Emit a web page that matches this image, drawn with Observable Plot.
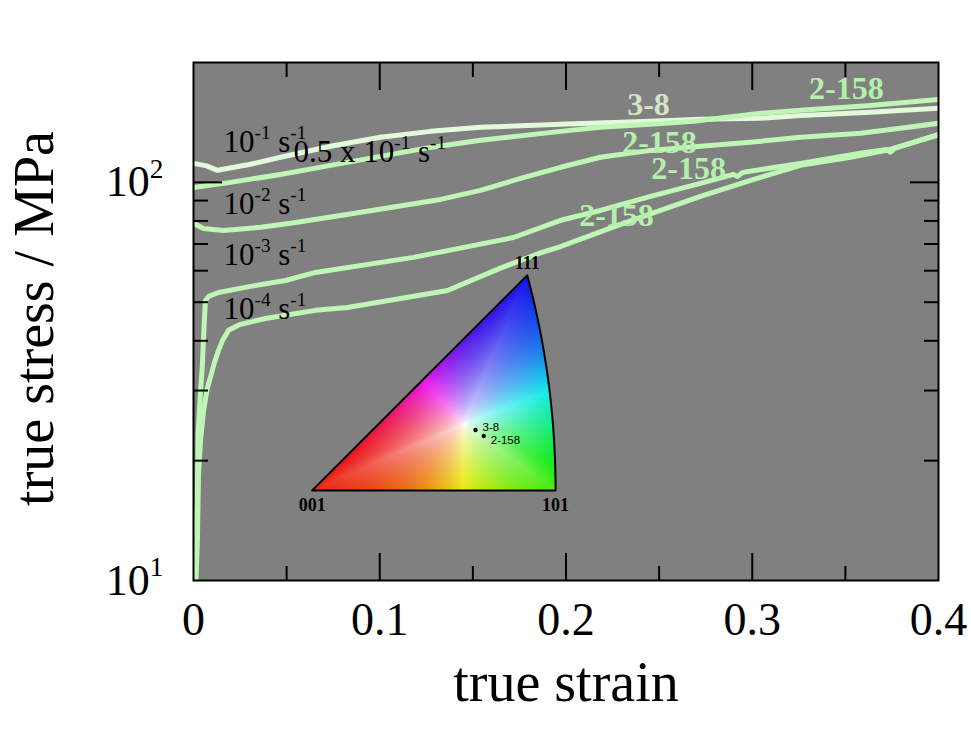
<!DOCTYPE html>
<html><head><meta charset="utf-8">
<script src="https://cdn.jsdelivr.net/npm/d3@7"></script>
<script src="https://cdn.jsdelivr.net/npm/@observablehq/plot@0.6"></script>
<style>body{margin:0;background:#fff}#chart svg{display:block}</style>
</head><body><div id="chart"></div>
<script>
// ---- axis ticks ----
const xTicks = [0, 0.1, 0.2, 0.3, 0.4];
const xMajorInner = [0.1, 0.2, 0.3];
const xMinor = [0.05, 0.15, 0.25, 0.35];
const yTicks = [10, 100];
const yMajorInner = [100];
const yMinor = [20, 30, 40, 50, 60, 70, 80, 90];

// ---- curves (true strain, true stress MPa) ----
const strainA = [0, 0.007, 0.0129, 0.0306, 0.0467, 0.0736, 0.1004, 0.1272, 0.1541, 0.1971, 0.2454, 0.2722, 0.3044, 0.3259, 0.3635, 0.4];
const stressA = [111.6, 110.0, 107.2, 111.0, 115.6, 123.2, 129.8, 134.3, 137.5, 139.9, 142.3, 144.0, 144.8, 147.3, 149.9, 153.5];
const strainB = [0, 0.0199, 0.0467, 0.0736, 0.1004, 0.1272, 0.1541, 0.1971, 0.2185, 0.2454, 0.2685, 0.3044, 0.3259, 0.3635, 0.4];
const stressB = [97.1, 100.0, 104.7, 110.3, 116.2, 122.4, 127.5, 134.3, 137.5, 139.9, 142.3, 149.1, 151.7, 156.0, 161.6];
const strainC = [0, 0.0054, 0.0161, 0.036, 0.0521, 0.0789, 0.1058, 0.1326, 0.1541, 0.1756, 0.1971, 0.2185, 0.2454, 0.2722, 0.2991, 0.3259, 0.3581, 0.3796, 0.4];
const stressC = [78.9, 76.6, 75.7, 77.1, 78.9, 82.6, 86.5, 90.6, 95.5, 102.3, 109.1, 115.6, 120.3, 123.2, 126.1, 129.8, 132.8, 136.7, 140.7];
const strainD = [0.0003, 0.0011, 0.0016, 0.0020, 0.0025, 0.0038, 0.0047, 0.0054, 0.0064, 0.0081, 0.0134, 0.0306, 0.0494, 0.0655, 0.1181, 0.1718, 0.1971, 0.2185, 0.2454, 0.2722, 0.2899, 0.2921, 0.2948, 0.3259, 0.3581, 0.3721, 0.3742, 0.3764, 0.4];
const stressD = [10, 11.2, 14.2, 15.9, 23.4, 30.0, 34.3, 40.8, 50.5, 51.7, 52.9, 54.8, 56.7, 59.4, 64.8, 72.7, 80.3, 85.0, 92.2, 99.4, 104.7, 103.5, 105.9, 111.6, 118.3, 120.9, 119.0, 121.7, 132.0];
const strainE = [0.0013, 0.0021, 0.0027, 0.0038, 0.0054, 0.0075, 0.0091, 0.0113, 0.0134, 0.0156, 0.0188, 0.0252, 0.0387, 0.0655, 0.0827, 0.1111, 0.1364, 0.1648, 0.1863, 0.1971, 0.2078, 0.2293, 0.2507, 0.2722, 0.2991, 0.3259, 0.3528, 0.3721, 0.4];
const stressE = [10, 12.6, 18.6, 22.5, 26.7, 30.5, 32.4, 35.3, 37.8, 40.1, 42.5, 44.0, 45.5, 47.7, 48.5, 51.1, 53.5, 60.9, 66.5, 69.0, 72.0, 78.4, 85.0, 92.2, 101.2, 110.3, 115.6, 120.3, 131.5];

const seriesNames = ["A", "B", "C", "D", "E"];
const seriesColors = ["#e3f9dc", "#bff5b5", "#bff5b5", "#bff5b5", "#bff5b5"];
const seriesStrain = [strainA, strainB, strainC, strainD, strainE];
const seriesStress = [stressA, stressB, stressC, stressD, stressE];

// ---- strain-rate labels (black) ----
const rateText = ["10^{-1} s^{-1}", "0.5 x 10^{-1} s^{-1}", "10^{-2} s^{-1}", "10^{-3} s^{-1}", "10^{-4} s^{-1}"];
const rateStrain = [0.0161, 0.0537, 0.0161, 0.0161, 0.0161];
const rateStress = [126.0, 118.9, 88.3, 65.5, 48.0];

// ---- specimen labels (green) ----
const specText = ["2-158", "3-8", "2-158", "2-158", "2-158"];
const specColor = ["#b3f0aa", "#d5e2c5", "#b3f0aa", "#b3f0aa", "#b3f0aa"];
const specStrain = [0.3505, 0.2443, 0.2502, 0.2658, 0.2271];
const specStress = [172.2, 157.0, 126.1, 108.4, 82.2];

// ---- inverse pole figure inset ----
const ipfStrain = [0.0637, 0.1944];   // 001 and 101 corners
const ipfStress = [16.83, 58.4];      // base (001,101) and apex (111)
const ipfCornerText = ["001", "101", "111"];
const poleText = ["3-8", "2-158"];
const poleX = [0.278, 0.292];          // stereographic coords
const poleY = [0.103, 0.0926];
const ipfWhite = [0.258, 0.1135];

const T8 = Math.tan(Math.PI / 8);
const S111 = (Math.sqrt(3) - 1) / 2;
const L0 = Math.log10(ipfStress[0]), L1 = Math.log10(ipfStress[1]);
const toStrain = X => ipfStrain[0] + X / T8 * (ipfStrain[1] - ipfStrain[0]);
const toStress = Y => Math.pow(10, L0 + Y / S111 * (L1 - L0));
const fromStrain = s => (s - ipfStrain[0]) / (ipfStrain[1] - ipfStrain[0]) * T8;
const fromStress = v => (Math.log10(v) - L0) / (L1 - L0) * S111;
const inside = (X, Y) => Y >= 0 && Y <= X && (X + 1) * (X + 1) + Y * Y <= 2;

const C = ipfWhite;
const rel = a => { const b = Math.atan2(-C[1], -C[0]); let r = (a - b) % (2 * Math.PI); if (r < 0) r += 2 * Math.PI; return r; };
const r101 = rel(Math.atan2(-C[1], T8 - C[0]));
const r111 = rel(Math.atan2(S111 - C[1], S111 - C[0]));
function boundaryT(dx, dy) {
  let t = Infinity;
  if (dy < 0) t = Math.min(t, -C[1] / dy);
  const den = dy - dx;
  if (Math.abs(den) > 1e-12) { const tt = (C[0] - C[1]) / den; if (tt > 0) t = Math.min(t, tt); }
  const px = C[0] + 1, py = C[1];
  const b = 2 * (px * dx + py * dy), c = px * px + py * py - 2;
  const disc = b * b - 4 * c;
  if (disc >= 0) { const tt = (-b + Math.sqrt(disc)) / 2; if (tt > 0) t = Math.min(t, tt); }
  return t;
}
function ipfColor(strain, stress) {
  const X = fromStrain(strain), Y = fromStress(stress);
  if (!inside(X, Y)) return null;
  const dx = X - C[0], dy = Y - C[1];
  const d = Math.hypot(dx, dy);
  if (d < 1e-9) return "rgb(255,255,255)";
  const r = rel(Math.atan2(dy, dx));
  let h;
  if (r <= r101) h = 5 + r / r101 * 100;
  else if (r <= r111) h = 105 + (r - r101) / (r111 - r101) * 135;
  else h = 240 + (r - r111) / (2 * Math.PI - r111) * 125;
  let s = Math.min(1, d / boundaryT(dx / d, dy / d));
  s = Math.pow(s, 0.7);
  const p = d3.rgb(d3.hsl(h % 360, 1, 0.5));
  const v = 1 - 0.08 * s;
  const mix = c => Math.round((255 * (1 - s * 0.92) + c * s * 0.92) * v);
  return `rgb(${mix(p.r)},${mix(p.g)},${mix(p.b)})`;
}

// triangle outline in stereographic coords
const outline = [];
for (let i = 0; i <= 40; i++) { const X = T8 * i / 40; outline.push({X, Y: 0}); }
const phi111 = Math.atan2(S111, S111 + 1);
for (let i = 1; i <= 40; i++) { const f = phi111 * i / 40; outline.push({X: -1 + Math.SQRT2 * Math.cos(f), Y: Math.SQRT2 * Math.sin(f)}); }
for (let i = 1; i <= 40; i++) { const X = S111 * (1 - i / 40); outline.push({X, Y: X}); }

// ---- build tables ----
const curveRows = seriesNames.flatMap((n, k) => seriesStrain[k].map((s, i) => ({series: n, strain: s, stress: seriesStress[k][i]})));
const rateRows = rateText.map((t, i) => ({t, strain: rateStrain[i], stress: rateStress[i]}));
const specRows = specText.map((t, i) => ({t, c: specColor[i], strain: specStrain[i], stress: specStress[i]}));
const outlineRows = outline.map(p => ({strain: toStrain(p.X), stress: toStress(p.Y)}));
const baseCorners = [
  {t: ipfCornerText[0], strain: toStrain(0), stress: toStress(0)},
  {t: ipfCornerText[1], strain: toStrain(T8), stress: toStress(0)}
];
const apexCorner = [{t: ipfCornerText[2], strain: toStrain(S111), stress: toStress(S111)}];
const poleRows = poleText.map((t, i) => ({t, strain: toStrain(poleX[i]), stress: toStress(poleY[i])}));

const serif = "Liberation Serif, Times New Roman, serif";
const sans = "Liberation Sans, Arial, sans-serif";

const chart = Plot.plot({
  width: 971,
  height: 732,
  marginLeft: 193,
  marginRight: 33,
  marginTop: 62,
  marginBottom: 152,
  style: {fontFamily: serif, background: "white", color: "black"},
  x: {domain: [0, 0.4]},
  y: {type: "log", domain: [10, 200]},
  marks: [
    Plot.frame({fill: "#808080", stroke: null}),
    Plot.raster({x1: ipfStrain[0], x2: ipfStrain[1], y1: ipfStress[0], y2: ipfStress[1], fill: ipfColor, pixelSize: 1}),
    Plot.line(outlineRows, {x: "strain", y: "stress", stroke: "black", strokeWidth: 2, strokeLinejoin: "round"}),
    Plot.dot(poleRows, {x: "strain", y: "stress", r: 2.2, fill: "black"}),
    Plot.text(poleRows.slice(0, 1), {x: "strain", y: "stress", text: "t", dx: 7, dy: -3, textAnchor: "start", fontSize: 11.5, fontFamily: sans, fill: "black"}),
    Plot.text(poleRows.slice(1), {x: "strain", y: "stress", text: "t", dx: 7, dy: 4, textAnchor: "start", fontSize: 11.5, fontFamily: sans, fill: "black"}),
    ...seriesNames.map((n, k) => Plot.line(curveRows.filter(r => r.series === n), {x: "strain", y: "stress", stroke: seriesColors[k], strokeWidth: 5, strokeLinejoin: "round", clip: true})),
    Plot.text(baseCorners, {x: "strain", y: "stress", text: "t", dy: 15, fontSize: 18, fontWeight: "bold", fill: "black"}),
    Plot.text(apexCorner, {x: "strain", y: "stress", text: "t", dy: -12, fontSize: 18, fontWeight: "bold", fill: "black"}),
    Plot.text(rateRows, {x: "strain", y: "stress", text: "t", textAnchor: "start", fontSize: 31, fill: "black"}),
    Plot.text(specRows, {x: "strain", y: "stress", text: "t", fill: "c", fontSize: 32, fontWeight: "bold"}),
    // inward ticks
    Plot.axisX(xMajorInner, {anchor: "bottom", tickSize: 27, dy: -27, fill: "none", strokeWidth: 2}),
    Plot.axisX(xMinor, {anchor: "bottom", tickSize: 14, dy: -14, fill: "none", strokeWidth: 2}),
    Plot.axisX(xMajorInner, {anchor: "top", tickSize: 27, dy: 27, fill: "none", strokeWidth: 2}),
    Plot.axisX(xMinor, {anchor: "top", tickSize: 14, dy: 14, fill: "none", strokeWidth: 2}),
    Plot.axisY(yMajorInner, {anchor: "left", tickSize: 29, dx: 29, fill: "none", strokeWidth: 2}),
    Plot.axisY(yMinor, {anchor: "left", tickSize: 15, dx: 15, fill: "none", strokeWidth: 2}),
    Plot.axisY(yMajorInner, {anchor: "right", tickSize: 29, dx: -29, fill: "none", strokeWidth: 2}),
    Plot.axisY(yMinor, {anchor: "right", tickSize: 15, dx: -15, fill: "none", strokeWidth: 2}),
    // tick labels
    Plot.axisX(xTicks, {anchor: "bottom", tickSize: 0, tickPadding: 22, fontSize: 46, tickFormat: d => d === 0 ? "0" : d.toFixed(1), label: null}),
    Plot.axisY(yTicks, {anchor: "left", tickSize: 0, tickPadding: 30, fontSize: 44, tickFormat: d => `10^{${Math.round(Math.log10(d))}}`, label: null}),
    Plot.frame({stroke: "black", strokeWidth: 2}),
    // axis titles
    Plot.text(["true strain"], {frameAnchor: "bottom", textAnchor: "middle", lineAnchor: "middle", dy: 103, fontSize: 56, fill: "black"}),
    Plot.text(["true stress / MPa"], {frameAnchor: "left", textAnchor: "middle", lineAnchor: "middle", dx: -158, dy: -3, rotate: -90, fontSize: 56, fill: "black"})
  ]
});
document.getElementById("chart").appendChild(chart);

// superscript formatting: "^{...}"
chart.querySelectorAll("text").forEach(t => {
  const s = t.textContent;
  if (!s.includes("^")) return;
  const fs = parseFloat(getComputedStyle(t).fontSize) || 16;
  while (t.firstChild) t.removeChild(t.firstChild);
  const parts = s.split(/(\^\{[^}]*\})/).filter(p => p !== "");
  let raised = false;
  const shift = 0.42 * fs;
  parts.forEach(p => {
    const ts = document.createElementNS("http://www.w3.org/2000/svg", "tspan");
    if (p.startsWith("^{")) {
      ts.textContent = p.slice(2, -1);
      ts.setAttribute("font-size", (0.62 * fs) + "px");
      if (!raised) ts.setAttribute("dy", -shift);
      raised = true;
    } else {
      ts.textContent = p;
      if (raised) ts.setAttribute("dy", shift);
      raised = false;
    }
    t.appendChild(ts);
  });
});
</script>
</body></html>
